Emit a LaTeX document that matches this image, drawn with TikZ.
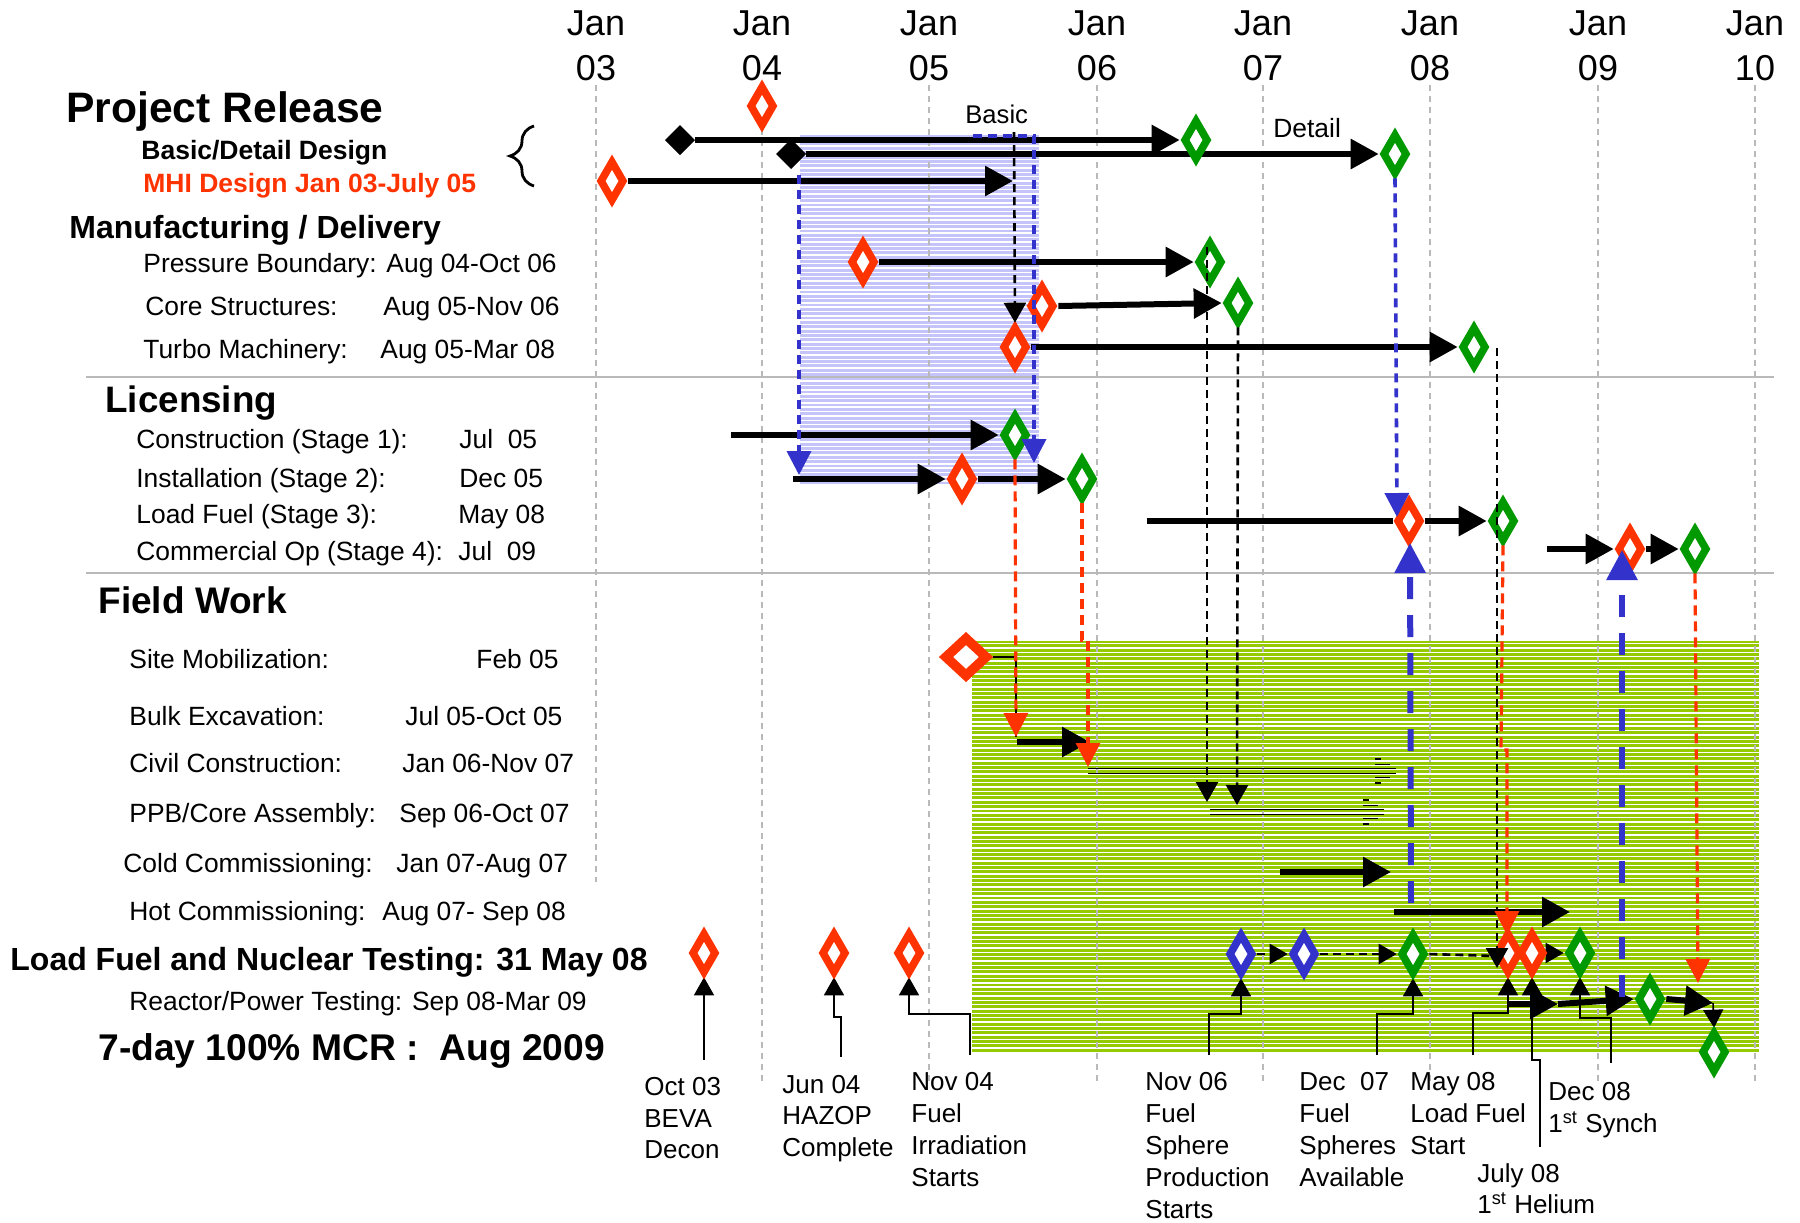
\documentclass[tikz,border=0pt]{standalone}
\usepackage{fontspec}
\setmainfont{Liberation Sans}
\usetikzlibrary{arrows.meta,shapes.geometric,decorations.pathreplacing}
\pgfdeclarelayer{back}
\pgfdeclarelayer{mid}
\pgfdeclarelayer{front}
\pgfsetlayers{back,mid,main,front}
\definecolor{mred}{RGB}{255,51,0}
\definecolor{mgreen}{RGB}{0,153,0}
\definecolor{mblue}{RGB}{51,51,204}
\definecolor{lgreen}{RGB}{150,202,0}
\definecolor{lblue}{RGB}{196,196,250}
\definecolor{gridc}{RGB}{185,185,185}
\newcommand{\myfs}[1]{\fontsize{#1}{#1}\selectfont}
\begin{document}
\begin{tikzpicture}[x=0.5pt,y=-0.5pt,
 txt/.style={anchor=base west,inner sep=0pt,font=\myfs{13.2}},
 blbl/.style={anchor=base west,inner sep=0pt,font=\myfs{13}},
 btxt/.style={anchor=base west,inner sep=0pt,font=\bfseries\myfs{#1}},
 hdr/.style={anchor=base,inner sep=0pt,font=\myfs{18}},
 dia/.style={diamond,draw=#1,fill=white,line width=3.8pt,minimum width=12.5pt,minimum height=20.5pt,inner sep=0pt,outer sep=1.9pt},
 bdia/.style={diamond,fill=black,minimum width=15pt,minimum height=15pt,inner sep=0pt,outer sep=0pt},
 sdia/.style={diamond,draw=mred,fill=white,line width=4.8pt,minimum width=22pt,minimum height=20.5pt,inner sep=0pt,outer sep=2.4pt},
 thk/.style={line width=3pt},
 bigarr/.style={line width=3pt,-{Triangle[length=14pt,width=14.5pt]}},
 smarr/.style={line width=0.8pt,-{Triangle[length=9pt,width=10pt]}},
 kdash/.style={line width=1.3pt,dash pattern=on 4pt off 2.5pt},
 kdarr/.style={kdash,-{Triangle[length=10pt,width=11pt]}},
 rdarr/.style={mred,line width=1.6pt,dash pattern=on 5pt off 3pt,-{Triangle[length=12pt,width=12pt]}},
 bdarr/.style={mblue,line width=1.8pt,dash pattern=on 4.5pt off 3pt,-{Triangle[length=12pt,width=12pt]}},
 Bdarr/.style={mblue,line width=3pt,dash pattern=on 11pt off 8pt,-{Triangle[length=15pt,width=15pt]}},
 gridln/.style={gridc,line width=0.75pt,dash pattern=on 3pt off 2.5pt},
 hol/.style={line width=0.6pt}
]
\useasboundingbox (0,0) rectangle (1800,1222);
\begin{pgfonlayer}{back}
\fill[white] (0,0) rectangle (1800,1222);
\fill[lblue] (800,135) rectangle (1039,484);
\foreach \yy in {137.5,141.85,...,484} \draw[white,line width=0.75pt] (800,\yy) -- (1039,\yy);
\fill[lgreen] (972,641) rectangle (1759,1052);
\foreach \yy in {643.5,647.85,...,1052} \draw[white,line width=0.7pt] (972,\yy) -- (1759,\yy);
\foreach \xx in {762,929,1097,1263,1430,1598,1755} \draw[gridln] (\xx,85) -- (\xx,1085);
\draw[gridln] (596,85) -- (596,882);
\draw[gridc,line width=1pt] (86,377) -- (1774,377) (86,573) -- (1774,573);
\end{pgfonlayer}

% header
\foreach \xx/\yr [count=\i] in {596/03,762/04,929/05,1097/06,1263/07,1430/08,1598/09,1755/10} {
  \node[hdr] (jan\i) at (\xx,35) {Jan};
  \node[hdr] (yr\i) at (\xx,80) {\yr};
}

% left texts
\node[btxt=21.3] (tPR) at (66,122) {Project Release};
\node[btxt=13.25] (tBDD) at (141,159) {Basic/Detail Design};
\node[btxt=13.25,text=mred] (tMHI) at (143,192) {MHI Design Jan 03-July 05};
\node[btxt=16] (tMFG) at (69,238) {Manufacturing / Delivery};
\node[txt] (tPB) at (143,272) {Pressure Boundary: Aug 04-Oct 06};
\node[txt] (tCS) at (145,315) {Core Structures:};
\node[txt] (tCSd) at (383,315) {Aug 05-Nov 06};
\node[txt] (tTM) at (143,358) {Turbo Machinery:};
\node[txt] (tTMd) at (380,358) {Aug 05-Mar 08};
\node[btxt=18.4] (tLIC) at (105,412) {Licensing};
\node[txt] (tS1) at (136,448) {Construction (Stage 1):};
\node[txt] (tS1d) at (459,448) {Jul\ \ 05};
\node[txt] (tS2) at (136,487) {Installation (Stage 2):};
\node[txt] (tS2d) at (459,487) {Dec 05};
\node[txt] (tS3) at (136,523) {Load Fuel (Stage 3):};
\node[txt] (tS3d) at (458,523) {May 08};
\node[txt] (tS4) at (136,560) {Commercial Op (Stage 4):};
\node[txt] (tS4d) at (458,560) {Jul\ \ 09};
\node[btxt=18.5] (tFW) at (98,613) {Field Work};
\node[txt] (tSM) at (129,668) {Site Mobilization:};
\node[txt] (tSMd) at (476,668) {Feb 05};
\node[txt] (tBE) at (129,725) {Bulk Excavation:};
\node[txt] (tBEd) at (405,725) {Jul 05-Oct 05};
\node[txt] (tCC) at (129,772) {Civil Construction:};
\node[txt] (tCCd) at (402,772) {Jan 06-Nov 07};
\node[txt] (tPPB) at (129,822) {PPB/Core Assembly:};
\node[txt] (tPPBd) at (399,822) {Sep 06-Oct 07};
\node[txt] (tCO) at (123,872) {Cold Commissioning:};
\node[txt] (tCOd) at (396,872) {Jan 07-Aug 07};
\node[txt] (tHC) at (129,920) {Hot Commissioning:};
\node[txt] (tHCd) at (382,920) {Aug 07- Sep 08};
\node[btxt=16] (tLF) at (10,970) {Load Fuel and Nuclear Testing: 31 May 08};
\node[txt] (tRP) at (129,1010) {Reactor/Power Testing: Sep 08-Mar 09};
\node[btxt=18.6] (tMCR) at (98,1060) {7-day 100\% MCR :\ \ Aug 2009};
\node[txt,font=\myfs{12.8}] (tBasic) at (965,123) {Basic};
\node[txt] (tDetail) at (1273,137) {Detail};

% bottom labels
\node[blbl] (bO1) at (644,1095) {Oct 03};
\node[blbl] (bO2) at (644,1127) {BEVA};
\node[blbl] (bO3) at (644,1158) {Decon};
\node[blbl] (bJ1) at (782,1093) {Jun 04};
\node[blbl] (bJ2) at (782,1124) {HAZOP};
\node[blbl] (bJ3) at (782,1156) {Complete};
\node[blbl] (bN1) at (911,1090) {Nov 04};
\node[blbl] (bN2) at (911,1122) {Fuel};
\node[blbl] (bN3) at (911,1154) {Irradiation};
\node[blbl] (bN4) at (911,1186) {Starts};
\node[blbl] (bS1) at (1145,1090) {Nov 06};
\node[blbl] (bS2) at (1145,1122) {Fuel};
\node[blbl] (bS3) at (1145,1154) {Sphere};
\node[blbl] (bS4) at (1145,1186) {Production};
\node[blbl] (bS5) at (1145,1218) {Starts};
\node[blbl] (bD1) at (1299,1090) {Dec\ \ 07};
\node[blbl] (bD2) at (1299,1122) {Fuel};
\node[blbl] (bD3) at (1299,1154) {Spheres};
\node[blbl] (bD4) at (1299,1186) {Available};
\node[blbl] (bM1) at (1410,1090) {May 08};
\node[blbl] (bM2) at (1410,1122) {Load Fuel};
\node[blbl] (bM3) at (1410,1154) {Start};
\node[blbl] (bH1) at (1477,1182) {July 08};
\node[blbl] (bH2) at (1477,1213) {1\textsuperscript{st} Helium};
\node[blbl] (bY1) at (1548,1100) {Dec 08};
\node[blbl] (bY2) at (1548,1132) {1\textsuperscript{st} Synch};

% brace
\draw[line width=1.4pt,decorate,decoration={brace,amplitude=12pt}] (534,186) -- (534,126);

% diamonds
\node[dia=mred] (pr0) at (762,106) {};
\node[bdia] (bk1) at (680,140) {};
\node[bdia] (bk2) at (791,154) {};
\node[dia=mgreen] (gBa) at (1196,140) {};
\node[dia=mgreen] (gDe) at (1395,154) {};
\node[dia=mred] (rMHI) at (612,181) {};
\node[dia=mred] (rPB) at (863,262) {};
\node[dia=mgreen] (gPB) at (1210,262) {};
\node[dia=mred] (rCS) at (1042,306) {};
\node[dia=mgreen] (gCS) at (1238,303) {};
\node[dia=mred] (rTM) at (1015,347) {};
\node[dia=mgreen] (gTM) at (1474,347) {};
\node[dia=mgreen] (gS1) at (1015,435) {};
\node[dia=mred] (rS2) at (962,479) {};
\node[dia=mgreen] (gS2) at (1082,479) {};
\node[dia=mred] (rS3) at (1409,521) {};
\node[dia=mgreen] (gS3) at (1503,521) {};
\node[dia=mred] (rS4) at (1630,549) {};
\node[dia=mgreen] (gS4) at (1695,549) {};
\node[sdia] (rSM) at (966,657) {};
\node[dia=mred] (rOct) at (704,953) {};
\node[dia=mred] (rJun) at (834,953) {};
\node[dia=mred] (rNov) at (909,953) {};
\node[dia=mblue] (bN6) at (1241,954) {};
\node[dia=mblue] (bB2) at (1304,954) {};
\node[dia=mgreen] (gD7) at (1413,954) {};
\node[dia=mred] (rMay) at (1508,953) {};
\node[dia=mred] (rJul) at (1532,953) {};
\node[dia=mgreen] (gF) at (1580,953) {};
\node[dia=mgreen] (gR1) at (1650,999) {};
\node[dia=mgreen] (gR2) at (1714,1052) {};

% free ends
\coordinate (mhiE) at (1013,181);
\coordinate (s1a) at (731,435);
\coordinate (s2a) at (793,479);
\coordinate (s3a) at (1147,521);
\coordinate (s4a) at (1547,549);
\coordinate (smC) at (1016,657);
\coordinate (smD) at (1016,737);
\coordinate (beA) at (1017,742);
\coordinate (beB) at (1090,742);
\coordinate (ccA) at (1280,872);
\coordinate (ccB) at (1391,872);
\coordinate (hcA) at (1394,912);
\coordinate (hcB) at (1570,912);
\coordinate (rpA) at (1508,1004);
\coordinate (rpB) at (1558,1004);
\coordinate (rpC) at (1713,1003);
\coordinate (jx) at (1494,956);
\coordinate (lOct) at (704,1060);
\coordinate (lJun) at (841,1057);
\coordinate (lNov) at (970,1055);
\coordinate (lN6) at (1209,1055);
\coordinate (lD7) at (1377,1055);
\coordinate (lMay) at (1473,1055);
\coordinate (lJul) at (1540,1147);
\coordinate (lDec) at (1611,1063);

\begin{pgfonlayer}{mid}
\draw[bigarr] (bk1.east) -- (gBa.west);
\draw[bigarr] (bk2.east) -- (gDe.west);
\draw[bigarr] (rMHI.east) -- (mhiE);
\draw[bigarr] (rPB.east) -- (gPB.west);
\draw[bigarr] (rCS.east) -- (gCS.west);
\draw[bigarr] (rTM.east) -- (gTM.west);
\draw[bigarr] (s1a) -- (gS1.west);
\draw[bigarr] (s2a) -- (rS2.west);
\draw[bigarr] (rS2.east) -- (gS2.west);
\draw[thk] (s3a) -- (rS3.west);
\draw[bigarr] (rS3.east) -- (gS3.west);
\draw[bigarr] (s4a) -- (rS4.west);
\draw[bigarr] (rS4.east) -- (gS4.west);
\draw[line width=0.8pt] (rSM.east) -- (smC) -- (smD);
\draw[bigarr] (beA) -- (beB);
% hollow arrows
\draw[hol] (1088,768.5) -- (1396,768.5) (1088,773.5) -- (1396,773.5)
  (1375,759) -- (1381,759) (1375,764.5) -- (1390,764.5)
  (1375,777.5) -- (1390,777.5) (1375,783) -- (1381,783);
\draw[hol] (1210,809.5) -- (1384,809.5) (1210,814.5) -- (1384,814.5)
  (1363,800) -- (1369,800) (1363,805.5) -- (1378,805.5)
  (1363,818.5) -- (1378,818.5) (1363,824) -- (1369,824);
\draw[bigarr] (ccA) -- (ccB);
\draw[bigarr] (hcA) -- (hcB);
% load fuel row
\draw[kdash,-{Triangle[length=9pt,width=10pt]}] (bN6.east) -- (bB2.west);
\draw[kdash,-{Triangle[length=9pt,width=10pt]}] (bB2.east) -- (gD7.west);
\draw[kdash] (gD7.east) -- (jx);
\draw[line width=1pt,-{Triangle[length=9pt,width=10pt]}] (rJul.east) -- (gF.west);
\draw[bigarr] (rpA) -- (rpB);
\draw[bigarr] (rpB) -- (gR1.west);
\draw[bigarr] (gR1.east) -- (rpC);
\draw[smarr] (rpC) -- (gR2.north);
% label connectors
\draw[smarr] (lOct) -- (rOct.south);
\draw[smarr] (lJun) -- (841,1017) -- (834,1017) -- (rJun.south);
\draw[smarr] (lNov) -- (970,1014) -- (909,1014) -- (rNov.south);
\draw[smarr] (lN6) -- (1209,1014) -- (1241,1014) -- (bN6.south);
\draw[smarr] (lD7) -- (1377,1014) -- (1413,1014) -- (gD7.south);
\draw[smarr] (lMay) -- (1473,1013) -- (1508,1013) -- (rMay.south);
\draw[smarr] (lJul) -- (1540,1060) -- (1532,1060) -- (rJul.south);
\draw[smarr] (lDec) -- (1611,1018) -- (1580,1018) -- (gF.south);
\end{pgfonlayer}

\begin{pgfonlayer}{front}
\draw[kdarr] (1014,132) -- (rTM.north);
\draw[bdarr] (799,175) -- (799,475);
\draw[bdarr] (973,136) -- (1034,136) -- (1034,463);
\draw[bdarr] (gDe.south) -- (1397,517);
\draw[kdarr] (1207,247) -- (1207,802);
\draw[kdarr] (gCS.south) -- (1237,805);
\draw[kdarr] (1497,348) -- (1497,968);
\draw[rdarr] (gS1.south) -- (smD);
\draw[rdarr] (gS2.south) -- (1082,640) -- (1088,640) -- (1088,767);
\draw[rdarr] (gS3.south) -- (1501,750) -- (1507,750) -- (1507,935);
\draw[rdarr] (gS4.south) -- (1698,983);
\draw[Bdarr] (1411,903) -- (1410,543);
\draw[Bdarr] (1622,997) -- (1622,550);
\end{pgfonlayer}
\end{tikzpicture}
\end{document}
